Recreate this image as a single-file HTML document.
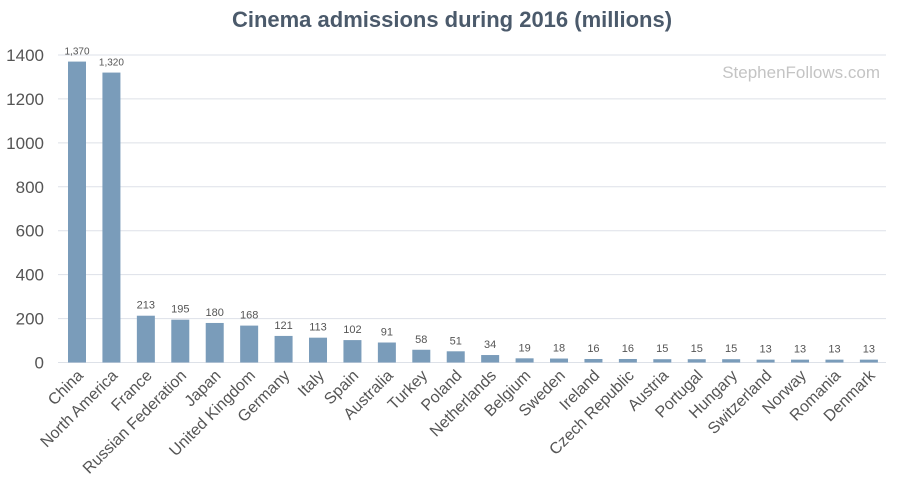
<!DOCTYPE html>
<html><head><meta charset="utf-8"><style>
body{margin:0;background:#fff;width:900px;height:487px;overflow:hidden;font-family:"Liberation Sans",sans-serif}
</style></head><body>
<svg width="900" height="487" id="c">
<text x="452" y="27" text-anchor="middle" font-size="22" font-weight="bold" fill="#4b5a6b">Cinema admissions during 2016 (millions)</text>
<text x="880" y="78" text-anchor="end" font-size="17" fill="#c4c4c4">StephenFollows.com</text>
<g id="grid"></g><g id="bars"></g><g id="labels"></g>
</svg>
<script>
const categories=["China","North America","France","Russian Federation","Japan","United Kingdom","Germany","Italy","Spain","Australia","Turkey","Poland","Netherlands","Belgium","Sweden","Ireland","Czech Republic","Austria","Portugal","Hungary","Switzerland","Norway","Romania","Denmark"];
const values=[1370,1320,213,195,180,168,121,113,102,91,58,51,34,19,18,16,16,15,15,15,13,13,13,13];
const valueLabels=["1,370","1,320","213","195","180","168","121","113","102","91","58","51","34","19","18","16","16","15","15","15","13","13","13","13"];
const yTicks=[0,200,400,600,800,1000,1200,1400];
const NS="http://www.w3.org/2000/svg";
const y0=362.5,yTop=55,yMax=1400;
const y=v=>y0-(y0-yTop)*v/yMax;
const x=i=>77+i*34.43;
function mk(t,a,p){const e=document.createElementNS(NS,t);for(const k in a)e.setAttribute(k,a[k]);p.appendChild(e);return e;}
const grid=document.getElementById('grid'),bars=document.getElementById('bars'),labels=document.getElementById('labels');
yTicks.forEach(t=>{
 const l=mk('line',{x1:58,x2:886,y1:y(t),y2:y(t),stroke:'#dde1e8','stroke-width':1},grid);
 
 
 const tx=mk('text',{x:44,y:y(t)+6,'text-anchor':'end','font-size':17,fill:'#555'},grid);
 tx.textContent=t;
 
 
});
categories.forEach((c,i)=>{
 const r=mk('rect',{x:x(i)-9,y:y(values[i]),width:18,height:y0-y(values[i]),fill:'#7a9cba'},bars);
 
 
 const vl=mk('text',{x:x(i),y:y(values[i])-7,'text-anchor':'middle','font-size':values[i]>999?10:11,fill:'#555'},labels);
 vl.textContent=valueLabels[i];
 
 
 const cl=mk('text',{x:0,y:0,'text-anchor':'end','font-size':16,fill:'#555',transform:`translate(${x(i)+7},${y0+14}) rotate(-45)`},labels);
 cl.textContent=c;
 
 
});
</script>
</body></html>
